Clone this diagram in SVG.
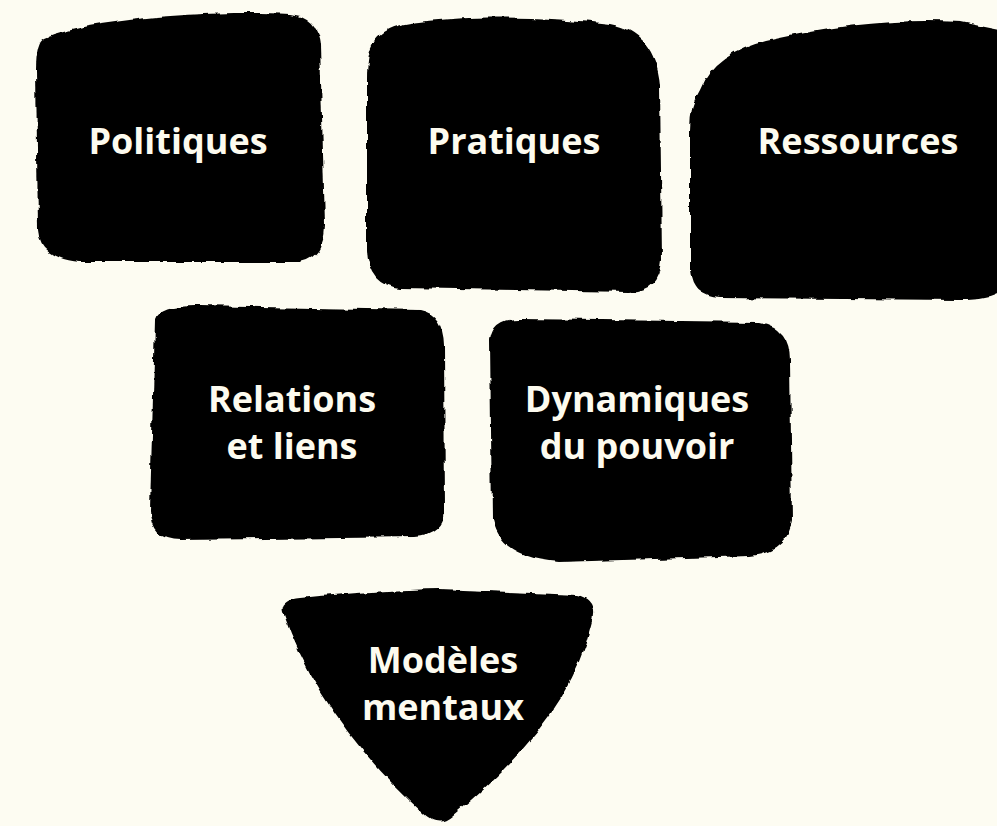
<svg xmlns="http://www.w3.org/2000/svg" width="997" height="826" viewBox="0 0 997 826">
<style>
.blob{fill:#050505;filter:url(#rough)}
.lbl{font-family:"Open Sans","Liberation Sans",sans-serif;font-weight:700;font-size:36px;fill:#fdfbef;text-anchor:middle}
</style>
<defs>
<filter id="rough" x="-5%" y="-5%" width="110%" height="110%">
<feTurbulence type="fractalNoise" baseFrequency="0.07" numOctaves="2" seed="3" result="n"/>
<feDisplacementMap in="SourceGraphic" in2="n" scale="6" xChannelSelector="R" yChannelSelector="G" result="d"/>
<feGaussianBlur in="d" stdDeviation="0.7"/>
</filter>
</defs>
<rect width="997" height="826" fill="#fdfcf2"/>
<g id="politiques">
<path class="blob" d="M 45 38 C 90 20 200 10 290 14 Q 318 18 320 45 L 325 225 Q 324 258 300 262 L 80 262 Q 40 258 38 230 L 36 70 Q 36 42 45 38 Z"/>
<text class="lbl" x="178" y="154">Politiques</text>
</g>
<g id="pratiques">
<path class="blob" d="M 372 45 Q 380 25 420 22 C 480 14 560 18 610 24 Q 655 32 660 85 L 662 260 Q 660 290 630 292 L 400 288 Q 368 284 367 250 L 367 80 Q 367 55 372 45 Z"/>
<text class="lbl" x="514" y="154">Pratiques</text>
</g>
<g id="ressources">
<path class="blob" d="M 700 90 Q 715 50 780 38 C 840 25 900 18 960 22 L 1000 30 L 1000 292 Q 990 300 960 300 L 720 298 Q 692 296 690 270 L 690 130 Q 690 105 700 90 Z"/>
<text class="lbl" x="858" y="154">Ressources</text>
</g>
<g id="relations">
<path class="blob" d="M 155 320 Q 160 305 200 306 L 420 310 Q 443 314 444 345 L 445 510 Q 443 535 415 537 L 180 540 Q 150 540 150 510 Z"/>
<text class="lbl" x="292" y="412">Relations<tspan x="292" dy="47">et liens</tspan></text>
</g>
<g id="dynamiques">
<path class="blob" d="M 490 340 Q 493 318 520 319 L 760 322 Q 790 328 790 360 L 792 520 Q 788 552 750 556 L 560 562 Q 500 558 492 520 Z"/>
<text class="lbl" x="637" y="412">Dynamiques<tspan x="637" dy="47">du pouvoir</tspan></text>
</g>
<g id="modeles">
<path class="blob" d="M 283 612 Q 280 600 300 598 Q 380 590 440 589 L 578 595 Q 600 600 592 625 Q 570 720 452 816 Q 438 828 424 814 Q 320 720 283 612 Z"/>
<text class="lbl" x="443" y="673">Modèles<tspan x="443" dy="47">mentaux</tspan></text>
</g>
<g id="connectors"/>
</svg>
